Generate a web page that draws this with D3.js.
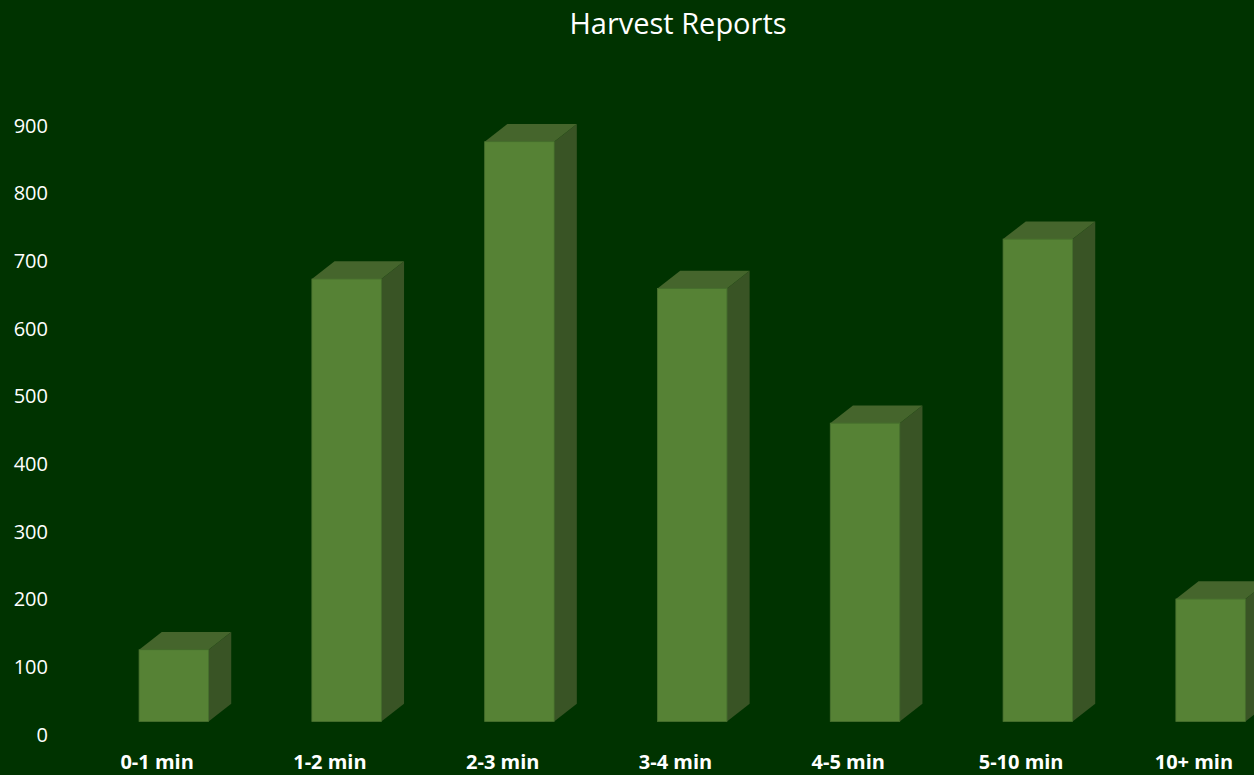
<!DOCTYPE html>
<html>
<head>
<meta charset="utf-8">
<script src="https://cdn.jsdelivr.net/npm/d3@7/dist/d3.min.js"></script>
<style>
  html, body { margin: 0; padding: 0; background: #003300; overflow: hidden; }
  svg { display: block; }
</style>
</head>
<body>
<svg id="chart" width="1254" height="775"></svg>
<script>
// Harvest report counts by time bucket
const categories = ["0-1 min", "1-2 min", "2-3 min", "3-4 min", "4-5 min", "5-10 min", "10+ min"];
const reports = [106, 654, 857, 640, 441, 713, 181];
const yTicks = [0, 100, 200, 300, 400, 500, 600, 700, 800, 900];
const chartTitle = "Harvest Reports";

const W = 1254, H = 775;
const svg = d3.select("#chart");

// background
svg.append("rect").attr("width", W).attr("height", H).attr("fill", "#003300");

// scales: floor front edge runs along y(0)
const y = d3.scaleLinear().domain([0, 900]).range([734.7, 125.8]);
const x = d3.scaleBand().domain(categories).range([70.7, 1280.3]).paddingInner(0.598).paddingOuter(0.299);

// oblique depth of each column, and shift from the floor's front edge to the column's front face
const depthX = 22.7, depthY = -17.7;
const shiftX = 16.7, shiftY = -13.2;

const colors = { front: "#568235", top: "#45652c", side: "#395425", edge: "#4a7230" };

const bars = svg.append("g").selectAll("g.bar")
  .data(categories.map((c, i) => ({ c, v: reports[i] })))
  .join("g").attr("class", "bar");

bars.each(function(d) {
  const g = d3.select(this);
  const x0 = x(d.c) + shiftX;
  const x1 = x0 + x.bandwidth();
  const yTop = y(d.v) + shiftY;
  const yBot = y(0) + shiftY;
  // right side face
  g.append("path")
    .attr("d", `M${x1},${yTop} L${x1 + depthX},${yTop + depthY} L${x1 + depthX},${yBot + depthY} L${x1},${yBot} Z`)
    .attr("fill", colors.side);
  // top face
  g.append("path")
    .attr("d", `M${x0},${yTop} L${x0 + depthX},${yTop + depthY} L${x1 + depthX},${yTop + depthY} L${x1},${yTop} Z`)
    .attr("fill", colors.top);
  // front face
  g.append("rect")
    .attr("x", x0).attr("y", yTop)
    .attr("width", x.bandwidth()).attr("height", yBot - yTop)
    .attr("fill", colors.front)
    .attr("stroke", colors.edge).attr("stroke-width", 0.8);
});

// value axis labels
const yAxis = d3.axisLeft(y).tickValues(yTicks).tickSize(0).tickPadding(0);
const yg = svg.append("g").attr("transform", "translate(48,0)").call(yAxis);
yg.select(".domain").remove();
yg.selectAll("text")
  .attr("fill", "#ffffff")
  .style("font-family", "'Open Sans', sans-serif")
  .style("font-size", "20px");

// category labels along the floor front
const xAxis = d3.axisBottom(x).tickSize(0).tickPadding(0);
const xg = svg.append("g").attr("transform", "translate(0,768.5)").call(xAxis);
xg.select(".domain").remove();
xg.selectAll("text")
  .attr("fill", "#ffffff")
  .attr("dy", "0")
  .style("font-family", "'Open Sans', sans-serif")
  .style("font-size", "20px")
  .style("font-weight", "bold");

// title
svg.append("text")
  .attr("x", 678).attr("y", 34.3)
  .attr("text-anchor", "middle")
  .attr("fill", "#ffffff")
  .style("font-family", "'Open Sans', sans-serif")
  .style("font-size", "29px")
  .text(chartTitle);
</script>
</body>
</html>
